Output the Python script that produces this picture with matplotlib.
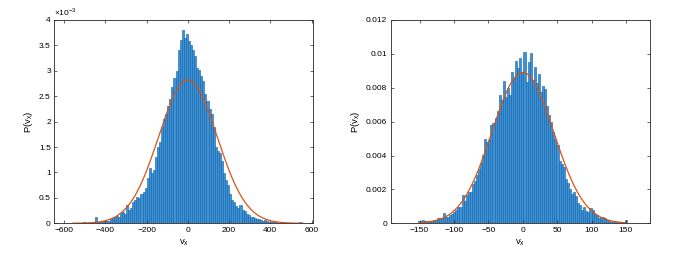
import numpy as np
import matplotlib
matplotlib.use("Agg")
import matplotlib.pyplot as plt
from matplotlib.ticker import FuncFormatter

# ---------------- data ----------------
# left panel: bin width 10, centres -505 .. 545, heights in units of 1e-3
left_bin_width = 10
left_centres = list(range(-505, 546, 10))
left_heights = [
    0.02, 0.0, 0.01, 0.0, 0.01, 0.02, 0.12, 0.02, 0.03, 0.02,
    0.04, 0.05, 0.04, 0.08, 0.10, 0.12, 0.15, 0.13, 0.20, 0.22,
    0.18, 0.36, 0.26, 0.30, 0.42, 0.45, 0.52, 0.50, 0.58, 0.62,
    0.70, 0.90, 1.08, 0.98, 1.05, 1.30, 1.50, 1.60, 1.90, 2.05,
    2.15, 2.30, 2.45, 2.68, 2.85, 3.00, 3.40, 3.60, 3.80, 3.65,
    3.72, 3.58, 3.50, 3.40, 3.30, 3.05, 3.02, 2.90, 2.80, 2.55,
    2.40, 2.25, 2.15, 1.90, 1.50, 1.42, 1.38, 1.22, 0.98, 0.85,
    0.75, 0.58, 0.46, 0.42, 0.34, 0.30, 0.36, 0.26, 0.24, 0.18,
    0.16, 0.12, 0.13, 0.10, 0.09, 0.08, 0.07, 0.05, 0.06, 0.04,
    0.03, 0.03, 0.02, 0.02, 0.01, 0.01, 0.0, 0.01, 0.0, 0.0,
    0.0, 0.0, 0.0, 0.0, 0.01, 0.02,
]
left_mu, left_sigma = 0.0, 141.5
left_xlim = (-648, 608)
left_xticks = [-600, -400, -200, 0, 200, 400, 600]
left_yticks = [0, 0.5, 1, 1.5, 2, 2.5, 3, 3.5, 4]

# right panel: bin width 3, centres -189.5 .. 182.5, heights in units of 1e-3
right_bin_width = 3
right_centres = list(np.arange(-189.5, 183.0, 3.0))
right_heights = [
    0.04, 0.0, 0.0, 0.0, 0.0, 0.0, 0.0, 0.0, 0.0, 0.02,
    0.0, 0.03, 0.02, 0.15, 0.12, 0.18, 0.12, 0.14, 0.10, 0.14,
    0.20, 0.22, 0.30, 0.33, 0.30, 0.59, 0.40, 0.38, 0.49, 0.55,
    0.69, 0.80, 0.98, 0.95, 1.67, 1.30, 1.67, 1.87, 1.85, 2.30,
    2.50, 2.85, 3.20, 3.55, 4.04, 5.00, 4.80, 4.90, 5.80, 5.90,
    6.20, 6.60, 7.57, 7.28, 8.40, 7.48, 7.97, 7.60, 8.95, 8.56,
    9.55, 9.15, 9.75, 8.85, 10.10, 8.36, 9.50, 10.05, 8.46, 9.25,
    8.30, 8.80, 7.77, 8.10, 7.90, 6.90, 6.40, 6.00, 5.40, 5.00,
    4.60, 3.70, 3.50, 3.30, 2.60, 2.40, 2.00, 1.70, 1.87, 1.60,
    1.18, 1.08, 0.79, 0.98, 0.75, 0.69, 0.89, 0.79, 0.55, 0.49,
    0.30, 0.35, 0.39, 0.30, 0.20, 0.15, 0.10, 0.12, 0.08, 0.06,
    0.05, 0.04, 0.05, 0.20, 0.04, 0.03, 0.0, 0.02, 0.0, 0.0,
    0.0, 0.0, 0.0, 0.02, 0.0,
]
right_mu, right_sigma = 0.0, 44.8
right_xlim = (-192, 185)
right_xticks = [-150, -100, -50, 0, 50, 100, 150]
right_yticks = [0, 0.002, 0.004, 0.006, 0.008, 0.010, 0.012]

# ---------------- style ----------------
plt.rcParams['font.family'] = ['Liberation Sans', 'DejaVu Sans']
BAR_FACE = '#3f93d4'
BAR_EDGE = '#0c5ea8'
LINE_C = '#d95319'
AX_C = '#262626'
FS = 6.0

fig = plt.figure(figsize=(6.81, 2.60), dpi=100)
ax1 = fig.add_axes([0.0797, 0.1412, 0.3803, 0.782])
ax2 = fig.add_axes([0.5737, 0.1412, 0.3808, 0.782])


def gauss(x, mu, s):
    return np.exp(-0.5 * ((x - mu) / s) ** 2) / (np.sqrt(2 * np.pi) * s)


def style(ax):
    for sp in ax.spines.values():
        sp.set_color(AX_C)
        sp.set_linewidth(0.6)
    ax.tick_params(direction='in', top=True, right=True, length=2.5,
                   width=0.5, colors=AX_C, labelsize=FS, pad=2.5)
    for lab in ax.get_xticklabels() + ax.get_yticklabels():
        lab.set_color('black')


# left
lc = np.array(left_centres, dtype=float)
lh = np.array(left_heights) * 1e-3
ax1.bar(lc, lh, width=left_bin_width, color=BAR_FACE, edgecolor=BAR_EDGE,
        linewidth=0.4)
xg = np.linspace(-560, 560, 600)
ax1.plot(xg, gauss(xg, left_mu, left_sigma), color=LINE_C, lw=0.9)
ax1.set_xlim(*left_xlim)
ax1.set_ylim(0, 4e-3)
ax1.set_xticks(left_xticks)
ax1.set_yticks([v * 1e-3 for v in left_yticks])
ax1.yaxis.set_major_formatter(FuncFormatter(lambda v, p: '%g' % round(v * 1e3, 3)))
ax1.set_xlabel('v$_\\mathregular{x}$', fontsize=6.8, labelpad=2.5)
ax1.set_ylabel('P(v$_\\mathregular{x}$)', fontsize=6.8, labelpad=3)
ax1.text(0.0, 1.012, '\u00d710$^{\\mathregular{-3}}$', transform=ax1.transAxes,
         fontsize=FS, ha='left', va='bottom', color='black')
style(ax1)

# right
rc = np.array(right_centres, dtype=float)
rh = np.array(right_heights) * 1e-3
ax2.bar(rc, rh, width=right_bin_width, color=BAR_FACE, edgecolor=BAR_EDGE,
        linewidth=0.4)
xg2 = np.linspace(-150, 150, 600)
ax2.plot(xg2, gauss(xg2, right_mu, right_sigma), color=LINE_C, lw=0.9)
ax2.set_xlim(*right_xlim)
ax2.set_ylim(0, 0.012)
ax2.set_xticks(right_xticks)
ax2.set_yticks(right_yticks)
ax2.yaxis.set_major_formatter(FuncFormatter(lambda v, p: '%g' % round(v, 4)))
ax2.set_xlabel('v$_\\mathregular{x}$', fontsize=6.8, labelpad=2.5)
ax2.set_ylabel('P(v$_\\mathregular{x}$)', fontsize=6.8, labelpad=3)
style(ax2)

fig.savefig('out.png', dpi=100)
